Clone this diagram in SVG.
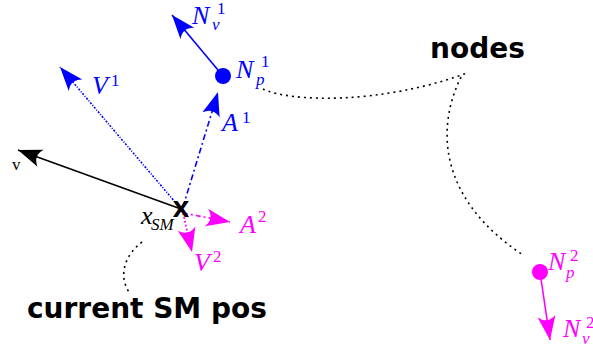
<svg xmlns="http://www.w3.org/2000/svg" width="593" height="349" viewBox="0 0 593 349">
<style>
.m{font-family:"Liberation Serif",serif;font-style:italic;font-size:26px}
.s{font-family:"Liberation Serif",serif;font-size:17px}
.si{font-family:"Liberation Serif",serif;font-style:italic;font-size:17px}
.b{fill:#0000ff}
.g{fill:#ff00ff}
.lbl{font-family:"DejaVu Sans",sans-serif;font-weight:bold;font-size:28px;fill:#000}
.ln{fill:none;stroke-width:1.6}
.dot{fill:none;stroke:#000;stroke-width:1.6;stroke-dasharray:2 4}
</style>
<defs>
<marker id="hk" viewBox="-26 -10 28 20" refX="0" refY="0" markerWidth="28" markerHeight="20" orient="auto" markerUnits="userSpaceOnUse"><path d="M0,0 L-24,-9 Q-16,0 -24,9 Z" fill="#000"/></marker>
<marker id="hb" viewBox="-26 -10 28 20" refX="0" refY="0" markerWidth="28" markerHeight="20" orient="auto" markerUnits="userSpaceOnUse"><path d="M0,0 L-24,-9 Q-16,0 -24,9 Z" fill="#0000ff"/></marker>
<marker id="hm" viewBox="-26 -10 28 20" refX="0" refY="0" markerWidth="28" markerHeight="20" orient="auto" markerUnits="userSpaceOnUse"><path d="M0,0 L-24,-9 Q-16,0 -24,9 Z" fill="#ff00ff"/></marker>
</defs>
<g id="connectors">
<path class="dot" d="M263,89 C290,102 380,105 467,73"/>
<path class="dot" d="M461,77 C435,130 440,200 523,255"/>
<path class="dot" stroke-dasharray="3 3" d="M142,242 C125,255 118,275 129,292"/>
<line class="ln" stroke="#000" x1="181" y1="209" x2="18" y2="150" marker-end="url(#hk)"/>
<line class="ln" stroke="#0000ff" stroke-width="1.2" stroke-dasharray="2 1.5 1 1.5" x1="181" y1="209" x2="60" y2="67" marker-end="url(#hb)"/>
<line class="ln" stroke="#0000ff" stroke-dasharray="6 3 2 3" x1="183" y1="207" x2="218" y2="92" marker-end="url(#hb)"/>
<line class="ln" stroke="#0000ff" x1="223" y1="76" x2="172" y2="15" marker-end="url(#hb)"/>
<line class="ln" stroke="#ff00ff" stroke-dasharray="5 3 2 3" x1="183" y1="213" x2="230" y2="222" marker-end="url(#hm)"/>
<line class="ln" stroke="#ff00ff" stroke-dasharray="2 2" x1="183" y1="213" x2="192" y2="252" marker-end="url(#hm)"/>
<line class="ln" stroke="#ff00ff" x1="540" y1="272" x2="550" y2="340" marker-end="url(#hm)"/>
</g>
<g id="sm">
<text x="181" y="217" text-anchor="middle" font-family="DejaVu Sans,sans-serif" font-weight="bold" font-size="22">X</text>
<text class="m" x="141" y="224" font-size="20">x</text><text class="si" x="151" y="230" font-size="10">SM</text>
</g>
<g id="v"><text class="s" x="12" y="170" font-size="17">v</text></g>
<g id="V1" class="b"><text class="m" x="92" y="94">V</text><text class="s" x="111" y="86">1</text></g>
<g id="A1" class="b"><text class="m" x="222" y="131">A</text><text class="s" x="242" y="123">1</text></g>
<g id="Np1" class="b">
<circle cx="223" cy="76" r="8" fill="#0000ff"/>
<text class="m" x="236" y="78">N</text><text class="s" x="261" y="67">1</text><text class="si" x="256" y="85">p</text>
</g>
<g id="Nv1" class="b"><text class="m" x="192" y="24">N</text><text class="s" x="217" y="14">1</text><text class="si" x="212" y="30">v</text></g>
<g id="A2" class="g"><text class="m" x="240" y="233">A</text><text class="s" x="258" y="222">2</text></g>
<g id="V2" class="g"><text class="m" x="194" y="271">V</text><text class="s" x="213" y="262">2</text></g>
<g id="Np2" class="g">
<circle cx="540" cy="272" r="8" fill="#ff00ff"/>
<text class="m" x="548" y="270">N</text><text class="s" x="570" y="261">2</text><text class="si" x="566" y="278">p</text>
</g>
<g id="Nv2" class="g"><text class="m" x="563" y="337">N</text><text class="s" x="586" y="328">2</text><text class="si" x="582" y="344">v</text></g>
<g id="nodes"><text class="lbl" x="430" y="58">nodes</text></g>
<g id="current"><text class="lbl" x="27" y="318">current SM pos</text></g>
</svg>
